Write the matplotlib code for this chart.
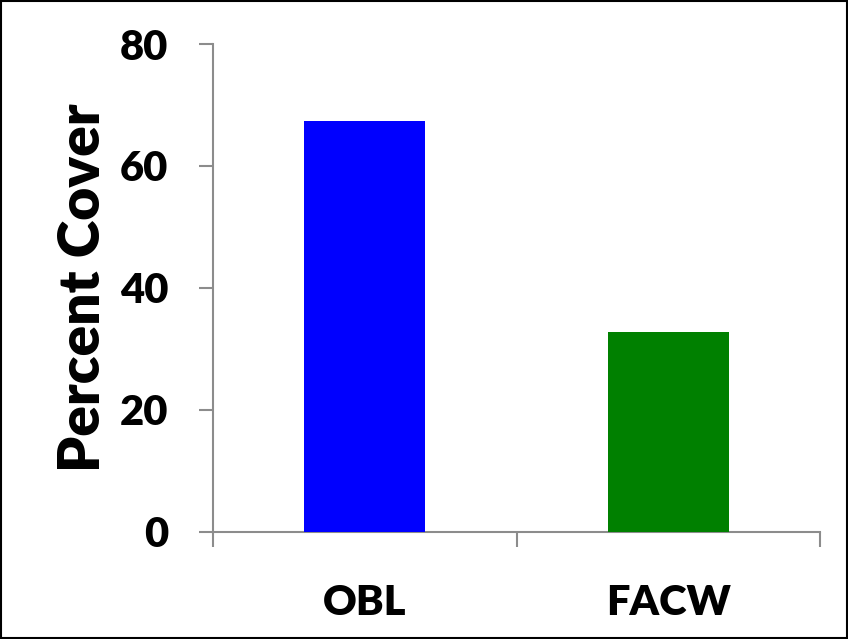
import matplotlib.pyplot as plt
from matplotlib.patches import Rectangle

# cover by wetland indicator status
categories = ['OBL', 'FACW']
cover = [67.3, 32.7]
bar_colors = ['#0000FF', '#008000']
y_ticks = [0, 20, 40, 60, 80]

plt.rcParams['font.family'] = ['Lato', 'DejaVu Sans']
plt.rcParams['font.weight'] = 'bold'

fig = plt.figure(figsize=(8.48, 6.39), dpi=100)
ax = fig.add_axes([0.2512, 0.168, 0.7158, 0.763])

x = list(range(len(categories)))
ax.bar(x, cover, width=0.40, color=bar_colors, zorder=3)

ax.set_xlim(-0.5, len(categories) - 0.5)
ax.set_ylim(0, 80)
ax.set_yticks(y_ticks)
ax.set_xticks(x)
ax.set_xticklabels(categories)
ax.set_xticks([-0.5, 0.5, 1.5], minor=True)

axis_gray = '#8c8c8c'
for side in ['top', 'right']:
    ax.spines[side].set_visible(False)
for side in ['left', 'bottom']:
    ax.spines[side].set_color(axis_gray)
    ax.spines[side].set_linewidth(1.5)

ax.tick_params(axis='y', length=10, width=1.5, color=axis_gray, pad=22,
               labelsize=30)
ax.tick_params(axis='x', which='major', length=0, pad=38, labelsize=30)
ax.tick_params(axis='x', which='minor', length=11, width=1.5, color=axis_gray)
for lbl in ax.get_xticklabels() + ax.get_yticklabels():
    lbl.set_fontweight('heavy')

ax.set_ylabel('Percent Cover', fontsize=41, fontweight='heavy', labelpad=8)

# outer chart frame
fig.patches.append(Rectangle((0.001, 0.001), 0.998, 0.997, transform=fig.transFigure,
                             fill=False, edgecolor='black', linewidth=1.5))

fig.savefig('out.png', dpi=100)
